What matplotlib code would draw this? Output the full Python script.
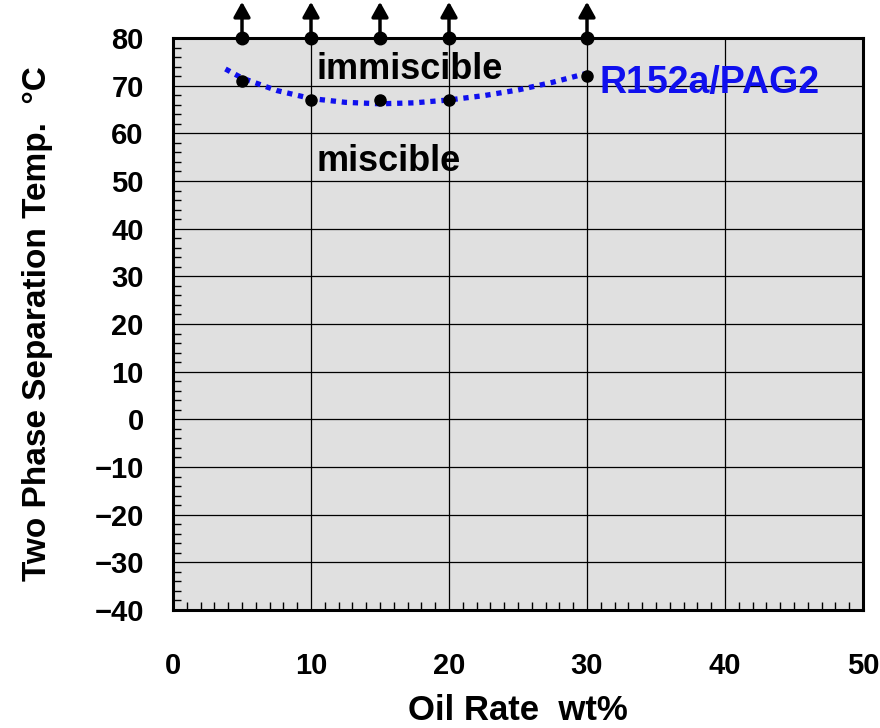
import matplotlib.pyplot as plt
import numpy as np
from matplotlib.ticker import MultipleLocator

plt.rcParams['font.family'] = ['Liberation Sans', 'DejaVu Sans']
plt.rcParams['font.weight'] = 'bold'

# measured two phase separation temperatures
oil_rate = [5, 10, 15, 20, 30]
sep_temp = [71, 67, 67, 67, 72]

# upper limit points (no separation up to 80 C)
upper_x = [5, 10, 15, 20, 30]
upper_y = [80, 80, 80, 80, 80]

# dotted trend curve
curve_x = [3.8, 5, 7.5, 10, 12.5, 15, 17.5, 20, 22.5, 25, 27.5, 30]
curve_y = [73.5, 71.6, 69.0, 67.3, 66.5, 66.2, 66.4, 67.0, 67.9, 69.1, 70.7, 72.6]

fig = plt.figure(figsize=(8.8, 7.28), dpi=100)
ax = fig.add_axes([173/880, 1-610/728, 690/880, 572/728])
ax.set_facecolor('#e0e0e0')

ax.set_xlim(0, 50)
ax.set_ylim(-40, 80)
ax.xaxis.set_major_locator(MultipleLocator(10))
ax.xaxis.set_minor_locator(MultipleLocator(1))
ax.yaxis.set_major_locator(MultipleLocator(10))
ax.yaxis.set_minor_locator(MultipleLocator(2))
ax.grid(True, which='major', color='black', linewidth=0.9)
ax.set_axisbelow(True)

ax.tick_params(which='both', direction='in', top=False, right=False)
ax.tick_params(which='major', length=0, labelsize=21)
ax.tick_params(axis='x', which='major', pad=30)
ax.tick_params(axis='y', which='major', pad=21)
ax.tick_params(which='minor', length=6, width=1)
for s in ax.spines.values():
    s.set_linewidth(2.2)

ax.plot(curve_x, curve_y, linestyle=(0, (1, 1.1)), color='#1010ee', linewidth=3.8, zorder=3)
ax.plot(oil_rate, sep_temp, 'o', color='black', markersize=8, zorder=4)

# arrows at upper limit
for x, y in zip(upper_x, upper_y):
    ax.plot(x, y, 'o', color='black', markersize=9, zorder=5, clip_on=False)
    ax.annotate('', xy=(x, y + 7.6), xytext=(x, y), xycoords='data',
                arrowprops=dict(arrowstyle='-|>,head_length=0.9,head_width=0.5',
                                color='black', lw=2.5, shrinkA=0, shrinkB=0),
                annotation_clip=False, zorder=5)

ax.text(10.4, 73.4, 'immiscible', fontsize=26, fontweight='bold', va='center', ha='left')
ax.text(10.4, 54.0, 'miscible', fontsize=26, fontweight='bold', va='center', ha='left')
ax.text(30.9, 70.6, 'R152a/PAG2', fontsize=27, fontweight='bold', color='#1010ee',
        va='center', ha='left')

ax.set_xlabel('Oil Rate  wt%', fontsize=25, fontweight='bold', labelpad=10)
ax.set_ylabel('Two Phase Separation Temp.  \u00b0C', fontsize=24, fontweight='bold', labelpad=30)

fig.savefig('out.png', dpi=100)
